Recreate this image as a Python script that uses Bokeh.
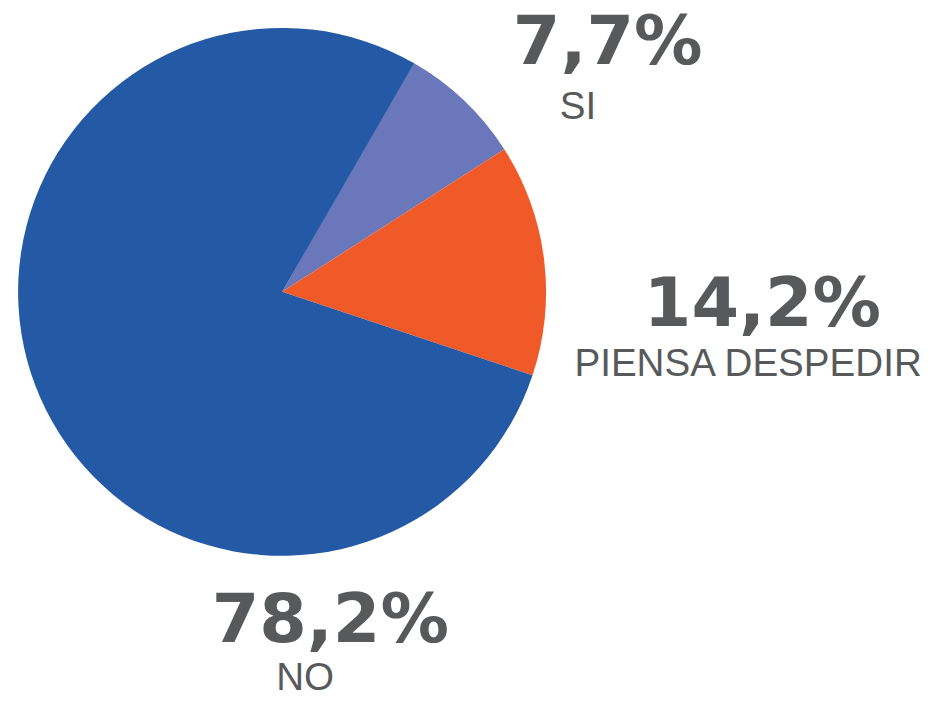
import math
from bokeh.plotting import figure
from bokeh.models import Range1d, ColumnDataSource
from bokeh.core.properties import value
from bokeh.embed import file_html
from bokeh.resources import INLINE

categories = ["SI", "PIENSA DESPEDIR", "NO"]
percents = [7.7, 14.2, 78.2]
pct_labels = ["7,7%", "14,2%", "78,2%"]
colors = ["#6A77BA", "#F05A28", "#245AA5"]

W, H = 930, 703
REF_W, REF_H = 946, 719
s = H / REF_H  # uniform scale from reference pixels to figure pixels
XMAX = W / s

NUM_FS = 70.0   # reference px
LAB_FS = 39.5
BASE_FIX = 0.355  # baseline correction (fraction of font size)

def sy(y):  # reference screen y -> data y
    return REF_H - y

p = figure(width=W, height=H, output_backend="svg", toolbar_location=None,
           x_range=Range1d(0, XMAX), y_range=Range1d(0, REF_H),
           min_border=0, match_aspect=False)
p.axis.visible = False
p.grid.visible = False
p.outline_line_color = None
p.background_fill_color = "white"

cx, cy, r = 288, sy(298), 270
start_deg = 60.4
starts, ends = [], []
cur = start_deg
for v in percents:
    end = cur
    start = cur - v * 3.6
    starts.append(math.radians(start))
    ends.append(math.radians(end))
    cur = start

src = ColumnDataSource(dict(cat=categories, start=starts, end=ends, color=colors))
p.wedge(x=cx, y=cy, radius=r, start_angle="start", end_angle="end",
        fill_color="color", line_color=None, source=src)

# label baseline positions (reference screen coords)
num_pos = [(524, 66), (658, 334), (216, 657)]
lab_pos = [(572, 121), (587, 384), (282, 705)]

nsrc = ColumnDataSource(dict(x=[a for a, b in num_pos],
                             y=[sy(b) + BASE_FIX * NUM_FS for a, b in num_pos], t=pct_labels))
p.text(x="x", y="y", text="t", source=nsrc, text_font=value("DejaVu Sans"),
       text_font_style="bold", text_font_size=f"{NUM_FS * s:.1f}px", text_color="#58595B",
       text_align="left", text_baseline="alphabetic")
lsrc = ColumnDataSource(dict(x=[a for a, b in lab_pos],
                             y=[sy(b) + BASE_FIX * LAB_FS for a, b in lab_pos], t=categories))
p.text(x="x", y="y", text="t", source=lsrc, text_font=value("Liberation Sans"),
       text_font_size=f"{LAB_FS * s:.1f}px", text_color="#58595B",
       text_align="left", text_baseline="alphabetic")

open("out.html", "w").write(file_html(p, INLINE))
